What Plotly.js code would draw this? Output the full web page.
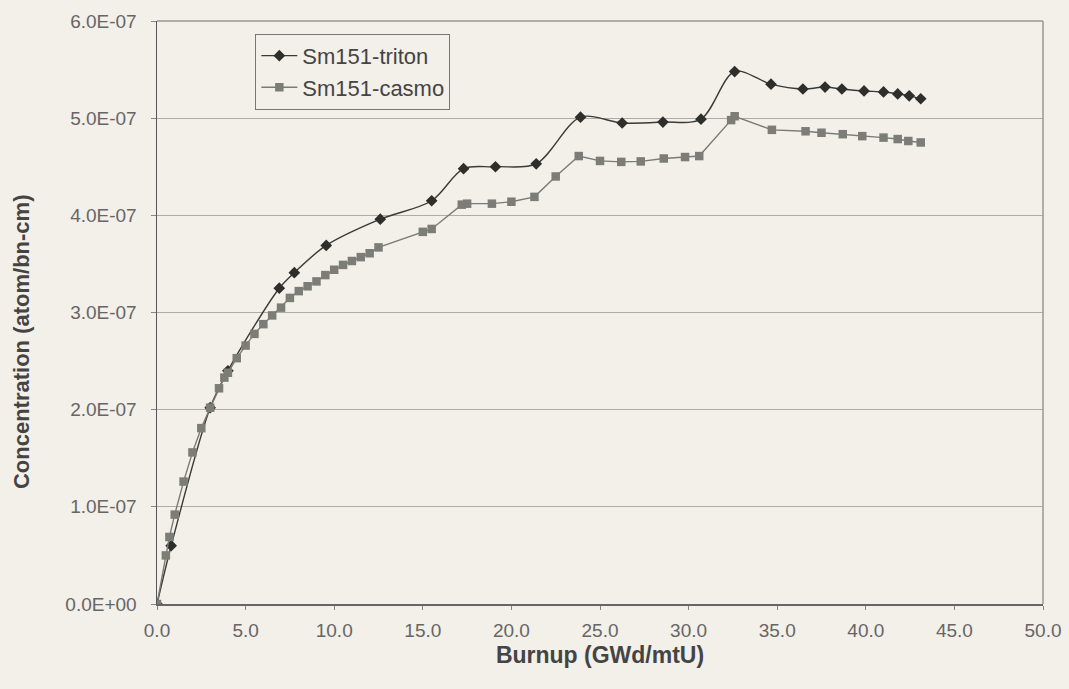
<!DOCTYPE html>
<html>
<head>
<meta charset="utf-8">
<script src="https://cdn.plot.ly/plotly-3.0.1.min.js"></script>
<style>html,body{margin:0;padding:0;background:#f3efe9;}#chart{width:1069px;height:689px;}</style>
</head>
<body>
<div id="chart"></div>
<script>
// Sm151-triton (smoothed line, diamonds)
var tritonBurnup = [0, 0.8, 3.0, 4.0, 6.9, 7.75, 9.55, 12.6, 15.5, 17.3, 19.1, 21.4, 23.9, 26.25, 28.55, 30.7, 32.6, 34.65, 36.45, 37.7, 38.65, 39.9, 41.0, 41.8, 42.45, 43.1];
var tritonConc = [0, 0.60e-7, 2.02e-7, 2.40e-7, 3.25e-7, 3.41e-7, 3.69e-7, 3.96e-7, 4.15e-7, 4.48e-7, 4.50e-7, 4.53e-7, 5.01e-7, 4.95e-7, 4.96e-7, 4.99e-7, 5.48e-7, 5.35e-7, 5.30e-7, 5.32e-7, 5.30e-7, 5.28e-7, 5.27e-7, 5.25e-7, 5.23e-7, 5.20e-7];

// Sm151-casmo (squares)
var casmoBurnup = [0, 0.5, 0.7, 1.0, 1.5, 2.0, 2.5, 3.0, 3.5, 3.8, 4.0, 4.5, 5.0, 5.5, 6.0, 6.5, 7.0, 7.5, 8.0, 8.5, 9.0, 9.5, 10.0, 10.5, 11.0, 11.5, 12.0, 12.5, 15.0, 15.5, 17.2, 17.5, 18.9, 20.0, 21.3, 22.5, 23.8, 25.0, 26.2, 27.3, 28.6, 29.8, 30.6, 32.4, 32.6, 34.7, 36.6, 37.5, 38.7, 39.8, 41.0, 41.8, 42.4, 43.1];
var casmoConc = [0, 0.50e-7, 0.69e-7, 0.92e-7, 1.26e-7, 1.56e-7, 1.81e-7, 2.02e-7, 2.22e-7, 2.33e-7, 2.38e-7, 2.53e-7, 2.66e-7, 2.78e-7, 2.88e-7, 2.97e-7, 3.05e-7, 3.15e-7, 3.22e-7, 3.27e-7, 3.32e-7, 3.385e-7, 3.44e-7, 3.49e-7, 3.53e-7, 3.57e-7, 3.61e-7, 3.67e-7, 3.83e-7, 3.86e-7, 4.11e-7, 4.12e-7, 4.12e-7, 4.14e-7, 4.19e-7, 4.40e-7, 4.61e-7, 4.56e-7, 4.55e-7, 4.555e-7, 4.585e-7, 4.60e-7, 4.61e-7, 4.98e-7, 5.02e-7, 4.88e-7, 4.865e-7, 4.85e-7, 4.835e-7, 4.815e-7, 4.80e-7, 4.785e-7, 4.765e-7, 4.75e-7];

var yTickVals = [0, 1e-7, 2e-7, 3e-7, 4e-7, 5e-7, 6e-7];
var yTickLabels = ["0.0E+00", "1.0E-07", "2.0E-07", "3.0E-07", "4.0E-07", "5.0E-07", "6.0E-07"];

var traces = [
  {
    x: tritonBurnup, y: tritonConc, name: "Sm151-triton", type: "scatter", mode: "lines+markers",
    line: {color: "#3a3a36", width: 1.4, shape: "spline", smoothing: 0.9},
    marker: {symbol: "diamond", size: 9, color: "#2e2e2a"}
  },
  {
    x: casmoBurnup, y: casmoConc, name: "Sm151-casmo", type: "scatter", mode: "lines+markers",
    line: {color: "#7a7a76", width: 1.4},
    marker: {symbol: "square", size: 8.5, color: "#7d7d78"}
  }
];

var layout = {
  width: 1069, height: 689,
  margin: {l: 157, r: 26, t: 21, b: 85},
  paper_bgcolor: "#f3efe9", plot_bgcolor: "#f3efe9",
  font: {family: "Liberation Sans, Arial, sans-serif", color: "#555"},
  showlegend: true,
  legend: {
    x: 0.111, y: 0.978, xanchor: "left", yanchor: "top",
    bgcolor: "#f3efe9", bordercolor: "#777", borderwidth: 1,
    font: {size: 22, color: "#444"}, tracegroupgap: 0, itemwidth: 36
  },
  xaxis: {
    range: [0, 50], dtick: 5, tick0: 0, tickformat: ".1f",
    showgrid: false, zeroline: false,
    showline: true, linecolor: "#666", linewidth: 1.5,
    ticks: "outside", ticklen: 4, tickcolor: "#888",
    ticklabelstandoff: 5,
    tickfont: {size: 19, color: "#666"},
    title: {text: "<b>Burnup (GWd/mtU)</b>", font: {size: 23, color: "#444"}, standoff: 6}
  },
  yaxis: {
    range: [0, 6e-7], tickvals: yTickVals, ticktext: yTickLabels,
    showgrid: true, gridcolor: "#aeaca7", gridwidth: 1, zeroline: false,
    showline: true, linecolor: "#555", linewidth: 1.5,
    ticks: "outside", ticklen: 5, tickcolor: "#888",
    ticklabelstandoff: 10,
    tickfont: {size: 19, color: "#666"}
  },
  annotations: [
    {
      text: "<b>Concentration (atom/bn-cm)</b>", xref: "paper", yref: "paper",
      x: -0.153, y: 0.45, xanchor: "center", yanchor: "middle", textangle: -90,
      showarrow: false, font: {size: 22, color: "#444"}
    }
  ],
  shapes: [
    {type: "line", xref: "paper", yref: "paper", x0: 0, x1: 1, y0: 1, y1: 1, line: {color: "#9a9894", width: 1.5}},
    {type: "line", xref: "paper", yref: "paper", x0: 1, x1: 1, y0: 0, y1: 1, line: {color: "#9a9894", width: 1.5}}
  ]
};

Plotly.newPlot("chart", traces, layout, {displayModeBar: false, staticPlot: true});
</script>
</body>
</html>
